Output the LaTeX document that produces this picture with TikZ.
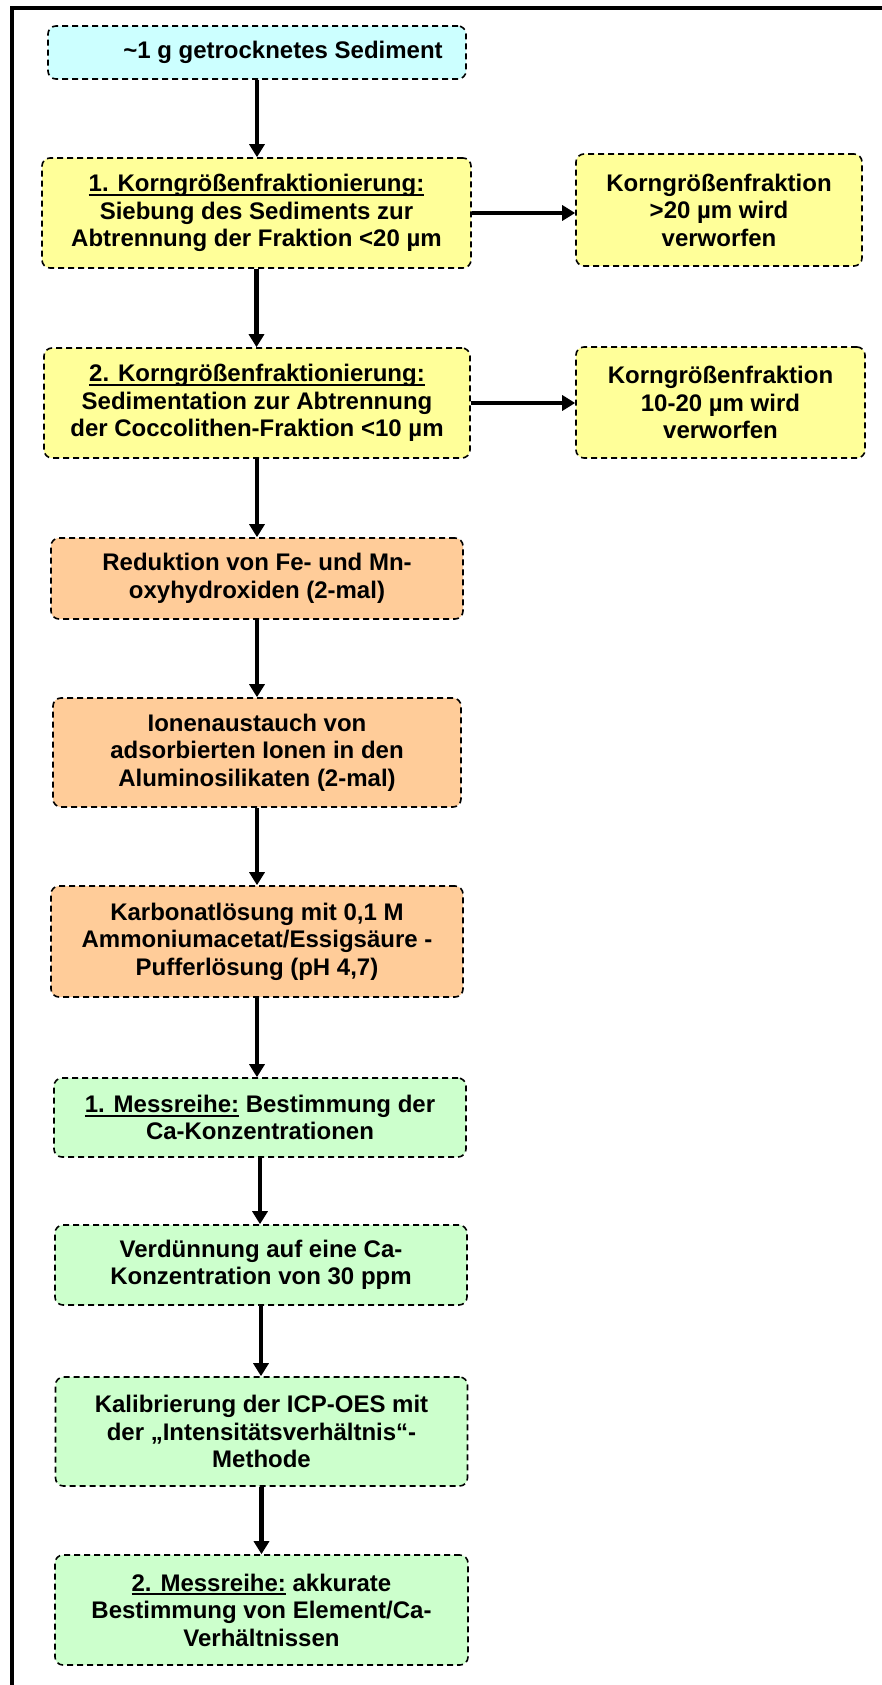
\documentclass[tikz,border=0pt]{standalone}
\usepackage{fontspec}
\setmainfont{Liberation Sans}
\usetikzlibrary{arrows.meta}
\definecolor{cyanfill}{HTML}{CCFFFF}
\definecolor{yellowfill}{HTML}{FFFF99}
\definecolor{orangefill}{HTML}{FFCC99}
\definecolor{greenfill}{HTML}{CCFFCC}
\newcommand\myul[1]{\setbox0\hbox{#1}\rlap{\rule[-4.2pt]{\wd0}{1.8pt}}\box0\relax}
\begin{document}
\begin{tikzpicture}[x=1pt,y=-1pt,
  box/.style={draw=black, line width=1.6pt, dash pattern=on 6pt off 4pt,
    rounded corners=8pt, align=center, inner sep=0pt,
    font=\fontsize{24}{27.5}\selectfont\bfseries},
  arr/.style={line width=4.5pt, -{Triangle[width=15pt,length=13pt]}},
  frame/.style={line width=4pt}]
\useasboundingbox (0,0) rectangle (882,1685);
\draw[frame] (11.5,1690) -- (11.5,8) -- (890,8);

\node[box, fill=cyanfill, minimum width=418pt, minimum height=53pt] (n1) at (257,52.5)
  {\hspace*{52pt}\textasciitilde1 g getrocknetes Sediment};
\node[box, fill=yellowfill, minimum width=429pt, minimum height=110pt] (n2) at (256.5,213)
  {\myul{1. Korngrößenfraktionierung:}\\Siebung des Sediments zur\\Abtrennung der Fraktion <20 µm};
\node[box, fill=yellowfill, minimum width=426pt, minimum height=110pt] (n3) at (257,403)
  {\myul{2. Korngrößenfraktionierung:}\\Sedimentation zur Abtrennung\\der Coccolithen-Fraktion <10 µm};
\node[box, fill=yellowfill, minimum width=286pt, minimum height=112pt] (r1) at (719,210)
  {Korngrößenfraktion\\>20 µm wird\\verworfen};
\node[box, fill=yellowfill, minimum width=289pt, minimum height=111pt] (r2) at (720.5,402.5)
  {Korngrößenfraktion\\10-20 µm wird\\verworfen};
\node[box, fill=orangefill, minimum width=412pt, minimum height=81pt] (n4) at (257,578.5)
  {Reduktion von Fe- und Mn-\\oxyhydroxiden (2-mal)};
\node[box, fill=orangefill, minimum width=408pt, minimum height=109pt] (n5) at (257,752.5)
  {Ionenaustauch von\\adsorbierten Ionen in den\\Aluminosilikaten (2-mal)};
\node[box, fill=orangefill, minimum width=412pt, minimum height=111pt] (n6) at (257,941.5)
  {Karbonatlösung mit 0,1 M\\Ammoniumacetat/Essigsäure -\\Pufferlösung (pH 4,7)};
\node[box, fill=greenfill, minimum width=412pt, minimum height=79pt] (n7) at (260,1117.5)
  {\myul{1. Messreihe:} Bestimmung der\\Ca-Konzentrationen};
\node[box, fill=greenfill, minimum width=412pt, minimum height=80pt] (n8) at (261,1265)
  {Verdünnung auf eine Ca-\\Konzentration von 30 ppm};
\node[box, fill=greenfill, minimum width=412pt, minimum height=109pt] (n9) at (261.5,1431.5)
  {Kalibrierung der ICP-OES mit\\der „Intensitätsverhältnis“-\\Methode};
\node[box, fill=greenfill, minimum width=413pt, minimum height=110pt] (n10) at (261.5,1610)
  {\myul{2. Messreihe:} akkurate\\Bestimmung von Element/Ca-\\Verhältnissen};

\draw[arr] (n1.south) -- (n1.south |- n2.north);
\draw[arr] (n2.south) -- (n2.south |- n3.north);
\draw[arr] (n3.south) -- (n3.south |- n4.north);
\draw[arr] (n4.south) -- (n4.south |- n5.north);
\draw[arr] (n5.south) -- (n5.south |- n6.north);
\draw[arr] (n6.south) -- (n6.south |- n7.north);
\draw[arr] (n7.south) -- (n7.south |- n8.north);
\draw[arr] (n8.south) -- (n8.south |- n9.north);
\draw[arr] (n9.south) -- (n9.south |- n10.north);
\draw[arr] (n2.east) -- (n2.east -| r1.west);
\draw[arr] (n3.east) -- (n3.east -| r2.west);
\end{tikzpicture}
\end{document}
